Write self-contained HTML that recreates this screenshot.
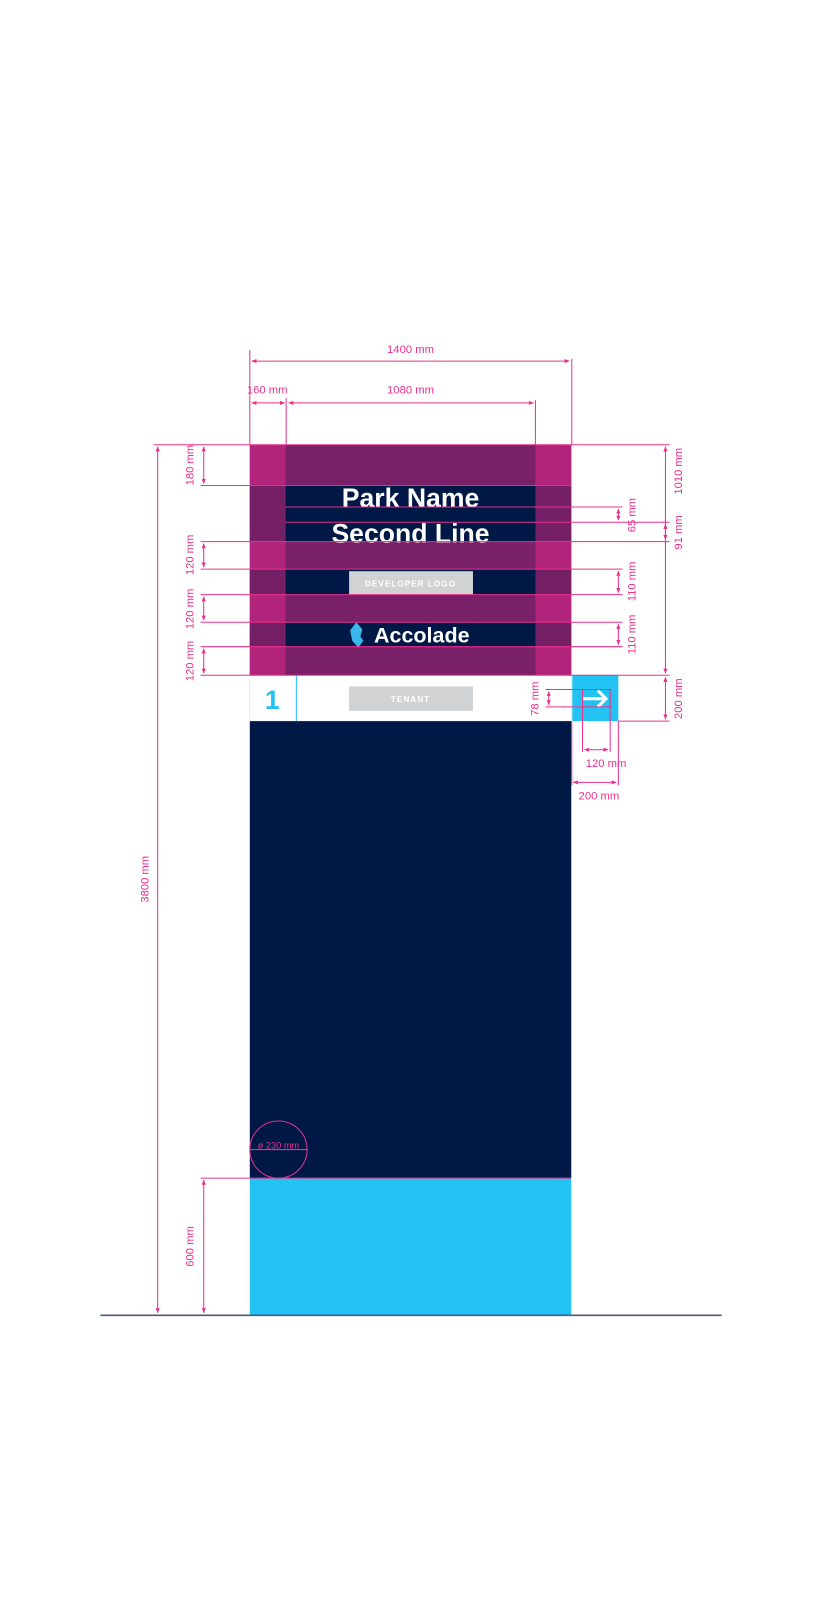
<!DOCTYPE html>
<html><head><meta charset="utf-8"><style>
html,body{margin:0;padding:0;background:#fff;}
svg{display:block;}
text{font-family:"Liberation Sans",sans-serif;}
</style></head><body>
<svg width="819" height="1600" viewBox="0 0 800 1568.6" preserveAspectRatio="none" xmlns="http://www.w3.org/2000/svg">
<defs>
<marker id="a" viewBox="0 0 10 10" refX="9" refY="5" markerWidth="5" markerHeight="5" orient="auto-start-reverse"><path d="M0,1 L10,5 L0,9 z" fill="#e8308c"/></marker>
</defs>
<rect width="800" height="1569" fill="#fff"/>
<rect x="244" y="436" width="314" height="40" fill="#7a2068"/>
<rect x="244" y="476" width="314" height="55" fill="#001845"/>
<rect x="244" y="531" width="314" height="27" fill="#7a2068"/>
<rect x="244" y="558" width="314" height="25" fill="#001845"/>
<rect x="244" y="583" width="314" height="27" fill="#7a2068"/>
<rect x="244" y="610" width="314" height="24" fill="#001845"/>
<rect x="244" y="634" width="314" height="28" fill="#7a2068"/>
<g fill="#b2247c">
<rect x="244" y="436" width="35" height="40"/><rect x="523" y="436" width="35" height="40"/>
<rect x="244" y="531" width="35" height="27"/><rect x="523" y="531" width="35" height="27"/>
<rect x="244" y="583" width="35" height="27"/><rect x="523" y="583" width="35" height="27"/>
<rect x="244" y="634" width="35" height="28"/><rect x="523" y="634" width="35" height="28"/>
</g>
<g fill="#741f66">
<rect x="244" y="476" width="35" height="55"/><rect x="523" y="476" width="35" height="55"/>
<rect x="244" y="558" width="35" height="25"/><rect x="523" y="558" width="35" height="25"/>
<rect x="244" y="610" width="35" height="24"/><rect x="523" y="610" width="35" height="24"/>
</g>
<text x="401" y="497" font-size="26" font-weight="bold" fill="#fff" text-anchor="middle">Park Name</text>
<text x="401" y="532" font-size="26" font-weight="bold" fill="#fff" text-anchor="middle">Second Line</text>
<rect x="341" y="560" width="121" height="23" fill="#d1d2d4"/>
<text x="401" y="575" font-size="8" font-weight="bold" fill="#fff" text-anchor="middle" letter-spacing="1">DEVELOPER LOGO</text>
<path d="M348,610 L354,617 L352,624 L355,628 L350,635 L344,628 L342,618 Z" fill="#3ab7ea"/>
<text x="412" y="630" font-size="21" font-weight="bold" fill="#fff" text-anchor="middle">Accolade</text>
<rect x="244" y="662" width="314" height="45" fill="#fff" stroke="#ddd" stroke-width="0.5"/>
<line x1="289.5" y1="662" x2="289.5" y2="707" stroke="#22c3f2" stroke-width="1"/>
<text x="266" y="695" font-size="26" font-weight="bold" fill="#22c3f2" text-anchor="middle">1</text>
<rect x="341" y="673" width="121" height="24" fill="#d1d2d4"/>
<text x="401" y="688" font-size="8" font-weight="bold" fill="#fff" text-anchor="middle" letter-spacing="1">TENANT</text>
<rect x="559" y="662" width="45" height="45" fill="#22c3f2"/>
<path d="M569,685 H592 M584,677 L592,685 L584,693" stroke="#fff" stroke-width="3" fill="none"/>
<rect x="244" y="707" width="314" height="448" fill="#001845"/>
<rect x="244" y="1155" width="314" height="134" fill="#22c3f2"/>
<line x1="98" y1="1289.5" x2="705" y2="1289.5" stroke="#4a5a8a" stroke-width="1.5"/>
<g stroke="#e8308c" stroke-width="1" fill="none">
<line x1="244" y1="343" x2="244" y2="436"/><line x1="558.5" y1="352" x2="558.5" y2="436"/>
<line x1="279.5" y1="390" x2="279.5" y2="436"/><line x1="523" y1="392" x2="523" y2="436"/>
<line x1="246" y1="354" x2="556" y2="354" marker-start="url(#a)" marker-end="url(#a)"/>
<line x1="246" y1="395" x2="278" y2="395" marker-start="url(#a)" marker-end="url(#a)"/>
<line x1="282" y1="395" x2="521" y2="395" marker-start="url(#a)" marker-end="url(#a)"/>
<line x1="150" y1="436" x2="654" y2="436"/>
<line x1="196" y1="476" x2="558" y2="476"/>
<line x1="279" y1="497" x2="608" y2="497"/>
<line x1="279" y1="512" x2="654" y2="512"/>
<line x1="196" y1="531" x2="654" y2="531"/>
<line x1="196" y1="558" x2="608" y2="558"/>
<line x1="196" y1="583" x2="608" y2="583"/>
<line x1="196" y1="610" x2="608" y2="610"/>
<line x1="196" y1="634" x2="608" y2="634"/>
<line x1="196" y1="662" x2="654" y2="662"/>
<line x1="604" y1="707" x2="654" y2="707"/>
<line x1="196" y1="1155" x2="558" y2="1155"/>
<line x1="154" y1="438" x2="154" y2="1287" marker-start="url(#a)" marker-end="url(#a)"/>
<line x1="199" y1="438" x2="199" y2="474" marker-start="url(#a)" marker-end="url(#a)"/>
<line x1="199" y1="533" x2="199" y2="556" marker-start="url(#a)" marker-end="url(#a)"/>
<line x1="199" y1="585" x2="199" y2="608" marker-start="url(#a)" marker-end="url(#a)"/>
<line x1="199" y1="636" x2="199" y2="660" marker-start="url(#a)" marker-end="url(#a)"/>
<line x1="199" y1="1157" x2="199" y2="1287" marker-start="url(#a)" marker-end="url(#a)"/>
<line x1="604" y1="499" x2="604" y2="510" marker-start="url(#a)" marker-end="url(#a)"/>
<line x1="604" y1="560" x2="604" y2="581" marker-start="url(#a)" marker-end="url(#a)"/>
<line x1="604" y1="612" x2="604" y2="632" marker-start="url(#a)" marker-end="url(#a)"/>
<line x1="650" y1="438" x2="650" y2="660" marker-start="url(#a)" marker-end="url(#a)"/>
<line x1="650" y1="514" x2="650" y2="529" marker-start="url(#a)" marker-end="url(#a)"/>
<line x1="650" y1="664" x2="650" y2="705" marker-start="url(#a)" marker-end="url(#a)"/>
<line x1="533" y1="676" x2="597" y2="676"/><line x1="533" y1="693" x2="597" y2="693"/>
<line x1="536" y1="678" x2="536" y2="691" marker-start="url(#a)" marker-end="url(#a)"/>
<line x1="569" y1="676" x2="569" y2="737"/><line x1="596" y1="676" x2="596" y2="737"/>
<line x1="571" y1="735" x2="594" y2="735" marker-start="url(#a)" marker-end="url(#a)"/>
<line x1="604" y1="707" x2="604" y2="770"/><line x1="558.5" y1="707" x2="558.5" y2="770"/>
<line x1="560" y1="767" x2="602" y2="767" marker-start="url(#a)" marker-end="url(#a)"/>
<circle cx="272" cy="1127" r="28"/>
<line x1="244" y1="1127" x2="300" y2="1127"/>
</g>
<g fill="#e8308c" font-size="11">
<text x="401" y="346" text-anchor="middle">1400 mm</text>
<text x="261" y="386" text-anchor="middle">160 mm</text>
<text x="401" y="386" text-anchor="middle">1080 mm</text>
<text x="592" y="752" text-anchor="middle">120 mm</text>
<text x="585" y="784" text-anchor="middle">200 mm</text>
<text x="272" y="1126" text-anchor="middle" font-size="9">ø 230 mm</text>
<text transform="translate(189,456) rotate(-90)" text-anchor="middle">180 mm</text>
<text transform="translate(189,544) rotate(-90)" text-anchor="middle">120 mm</text>
<text transform="translate(189,597) rotate(-90)" text-anchor="middle">120 mm</text>
<text transform="translate(189,648) rotate(-90)" text-anchor="middle">120 mm</text>
<text transform="translate(189,1222) rotate(-90)" text-anchor="middle">600 mm</text>
<text transform="translate(145,862) rotate(-90)" text-anchor="middle">3800 mm</text>
<text transform="translate(621,505) rotate(-90)" text-anchor="middle">65 mm</text>
<text transform="translate(621,570) rotate(-90)" text-anchor="middle">110 mm</text>
<text transform="translate(621,622) rotate(-90)" text-anchor="middle">110 mm</text>
<text transform="translate(666,462) rotate(-90)" text-anchor="middle">1010 mm</text>
<text transform="translate(666,522) rotate(-90)" text-anchor="middle">91 mm</text>
<text transform="translate(666,685) rotate(-90)" text-anchor="middle">200 mm</text>
<text transform="translate(526,685) rotate(-90)" text-anchor="middle">78 mm</text>
</g>
</svg>
</body></html>
